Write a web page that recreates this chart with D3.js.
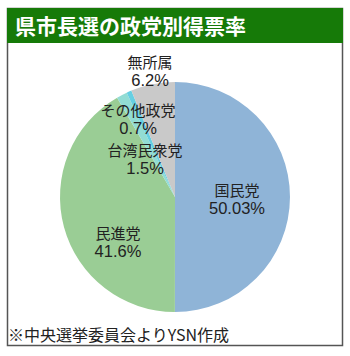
<!DOCTYPE html>
<html><head><meta charset="utf-8">
<script src="https://cdn.jsdelivr.net/npm/d3@7"></script>
<style>
html,body{margin:0;padding:0;background:#fff;}
svg{display:block;font-family:"Noto Sans CJK JP","Noto Sans",sans-serif;}
</style></head>
<body><svg id="c" width="350" height="356"></svg>
<script>
const title = "県市長選の政党別得票率";
const source = "※中央選挙委員会よりYSN作成";
const parties = ["国民党","民進党","台湾民衆党","その他政党","無所属"];
const shares = [50.03, 41.6, 1.5, 0.7, 6.2];
const shareLabels = ["50.03%","41.6%","1.5%","0.7%","6.2%"];
const colors = ["#8fb4d7","#9acd95","#92dcd4","#66cfe2","#c9c9c9"];

const svg = d3.select("#c");
// frame
svg.append("rect").attr("x",7.5).attr("y",8.5).attr("width",335).attr("height",337)
  .attr("fill","#fff").attr("stroke","#555").attr("stroke-width",1.5);
svg.append("rect").attr("x",7).attr("y",8).attr("width",336).attr("height",35).attr("fill","#167a08");
svg.append("text").attr("x",15).attr("y",34).attr("fill","#fff")
  .attr("font-size",21).attr("font-weight","bold").text(title);

const cx = 175, cy = 197, R = 115;
const g = svg.append("g").attr("transform",`translate(${cx},${cy})`);
const pie = d3.pie().sort(null).value(d=>d.v);
const data = parties.map((p,i)=>({p, v:shares[i], lab:shareLabels[i], c:colors[i]}));
const arcs = pie(data);
const arc = d3.arc().innerRadius(0).outerRadius(R);
g.selectAll("path").data(arcs).enter().append("path")
  .attr("d",arc).attr("fill",d=>d.data.c);

// label anchors (relative to pie center)
const labelAdjust = {"国民党":[62,-1],"民進党":[-57,42],"台湾民衆党":[-30,-41],"その他政党":[-37,-81],"無所属":[-25,-129]};
arcs.forEach(d=>{
  const [dx,dy] = labelAdjust[d.data.p];
  g.append("text").attr("text-anchor","middle").attr("fill","#222").attr("font-size",15)
    .attr("x",dx).attr("y",dy).text(d.data.p);
  g.append("text").attr("text-anchor","middle").attr("fill","#222").attr("font-size",16.5)
    .attr("font-family","'Liberation Sans',Arial,sans-serif")
    .attr("x",dx).attr("y",dy+18).text(d.data.lab);
});

svg.append("text").attr("x",8).attr("y",341).attr("fill","#222").attr("font-size",16).text(source);
</script></body></html>
